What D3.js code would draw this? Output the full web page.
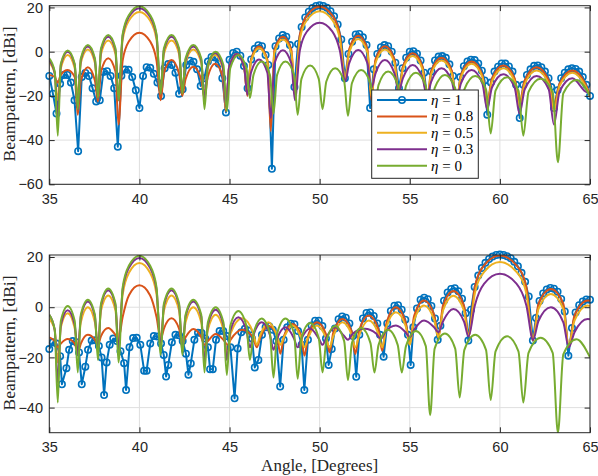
<!DOCTYPE html>
<html>
<head>
<meta charset="utf-8">
<script src="https://cdn.jsdelivr.net/npm/d3@7"></script>
<style>
  body { margin: 0; background: #fff; }
</style>
</head>
<body>
<div id="chart"></div>
<script>
// ---- data ----
const angleTicks = [35, 40, 45, 50, 55, 60, 65];
const topDbTicks = [-60, -40, -20, 0, 20];
const bottomDbTicks = [-40, -20, 0, 20];
const etaLabels = ["1", "0.8", "0.5", "0.3", "0"];

// eta = 0 (same beam at 40 deg in both panels)
const greenAngles = [35.0, 35.30, 35.47, 35.64, 36.02, 36.41, 36.58, 36.75, 37.14, 37.53, 37.70, 37.87, 38.27, 38.67,
  38.84, 39.07, 39.42, 40.0, 40.59, 40.95, 41.18, 41.36, 41.78, 42.20, 42.38, 42.56, 42.99, 43.43, 43.61, 43.80, 44.23, 44.66,
  44.85, 45.04, 45.49, 45.94, 46.13, 46.33, 46.78, 47.24, 47.44, 47.64, 48.10, 48.58, 48.78, 48.99, 49.47, 49.95,
  50.16, 50.37, 50.86, 51.36, 51.57, 51.79, 52.30, 52.82, 53.04, 53.27, 53.80, 54.33, 54.56, 54.79, 55.34, 55.89,
  56.13, 56.38, 56.95, 57.52, 57.77, 58.03, 58.63, 59.23, 59.49, 59.76, 60.40, 61.03, 61.30, 61.59, 62.26, 62.93,
  63.22, 63.52, 64.25, 65.0];
const greenDb = [-3, -9, -38, -5.5, 0.5, -5.5,
  -26, -3, 3, -3,
  -21, 1.5, 7.5, 1.5,
  -22, 7.9, 16.6, 20.5, 16.6, 7.9,
  -19, 1.5, 7.5, 1.5,
  -19, -3, 3, -3,
  -26, -6, 0, -6,
  -27, -7.5, -1.5, -7.5,
  -21, -10.5, -4.5, -10.5,
  -28, -10.5, -4.5, -10.5,
  -28.5, -12.3, -6.3, -12.3,
  -26, -13.5, -7.5, -13.5,
  -29, -14.3, -8.3, -14.3,
  -26, -15, -9, -15,
  -26, -15.5, -9.5, -15.5,
  -43, -16.5, -10.5, -16.5,
  -36, -17, -11, -17,
  -37, -17.6, -11.6, -17.6,
  -38, -18.2, -12.2, -18.2,
  -50, -18.8, -12.8,
  -20];

// top panel, beams at 40 and 50 deg
const topMixAngles = [35.0, 35.30, 35.47, 35.64, 36.02, 36.41, 36.58, 36.75, 37.14, 37.53, 37.70, 37.87, 38.27, 38.67,
  38.84, 39.07, 39.42, 40.0, 40.59, 40.95, 41.18, 41.36, 41.78, 42.20, 42.38, 42.56, 42.99, 43.43, 43.61, 43.79, 44.2, 44.62,
  44.8, 44.98, 45.4, 45.81, 45.99, 46.19, 46.64, 47.10, 47.29, 47.49, 47.96, 48.43, 48.63, 48.9, 49.3, 50.0, 50.7, 51.12,
  51.42, 51.64, 52.14, 52.65, 52.87, 53.10, 53.62, 54.15, 54.38, 54.62, 55.16, 55.71, 55.95, 56.19, 56.76, 57.34,
  57.58, 57.84, 58.43, 59.03, 59.29, 59.56, 60.19, 60.82, 61.09, 61.38, 62.04, 62.71, 63.0, 63.31, 64.02, 64.74, 65.0];
const topOrangeDb = [-10.5, -11.5, -14, -10.5, -8.3, -11.5,
  -28.5, -13, -7, -13,
  -22.5, -9, -3, -9,
  -33, -4, 4.7, 8.6, 4.7, -4,
  -22, -9.8, -3.8, -9.8,
  -20, -12.5, -6.8, -12.5,
  -21, -11.5, -5.5, -11.5,
  -27, -7, -1, -7,
  -20, -3.7, 2.3, -3.7,
  -36, 0.8, 6.8, 0.8,
  -20, 7.7, 16.4, 20.3, 16.4, 7.7,
  -13, 1.2, 7.2, 1.2,
  -22, -3.5, 2.5, -3.5,
  -20, -6.7, -0.7, -6.7,
  -22, -8.8, -2.8, -8.8,
  -24, -10.5, -4.5, -10.5,
  -23, -12.2, -6.2, -12.2,
  -23, -13, -7, -13,
  -24, -14.5, -8.5, -14.5,
  -20];
const topYellowDb = [-5, -10, -22, -7.5, -1.5, -7.5,
  -20, -5, 1, -5,
  -18, -1, 5, -1,
  -20, 5.4, 14.1, 18, 14.1, 5.4,
  -19, -1, 5, -1,
  -17, -5, 1, -5,
  -20, -7.5, -1.5, -7.5,
  -26, -7, -1, -7,
  -19, -4.5, 1.5, -4.5,
  -28, -0.5, 5.5, -0.5,
  -18, 5.7, 14.4, 18.3, 14.4, 5.7,
  -12, -0.3, 5.7, -0.3,
  -20, -5, 1, -5,
  -19, -8, -2, -8,
  -21, -10, -4, -10,
  -22, -11.5, -5.5, -11.5,
  -24, -13.5, -7.5, -13.5,
  -25, -14.5, -8.5, -14.5,
  -27, -15.5, -9.5, -15.5,
  -20];
const topPurpleDb = [-4, -9.5, -30, -6, 0, -6,
  -26, -3.7, 2.3, -3.7,
  -21, 0.8, 6.8, 0.8,
  -22, 7.1, 15.8, 19.7, 15.8, 7.1,
  -19, 0.8, 6.8, 0.8,
  -18, -3.7, 2.3, -3.7,
  -22, -6.5, -0.5, -6.5,
  -25, -7, -1, -7,
  -19.5, -9.5, -3.5, -9.5,
  -30, -5.3, 0.7, -5.3,
  -22, 0.5, 9.2, 13.1, 9.2, 0.5,
  -13.5, -5.2, 0.8, -5.2,
  -16.5, -9.8, -3.8, -9.8,
  -18, -12, -6, -12,
  -20, -13.5, -7.5, -13.5,
  -22, -14.3, -8.3, -14.3,
  -26, -16.2, -10.2, -16.2,
  -28, -17, -11, -17,
  -33, -18, -12, -18,
  -19];
const topBlue = [[35.0,-11],[35.2,-19],[35.4,-28],[35.6,-14.5],[35.8,-10.5],[36.0,-10.5],[36.2,-14],[36.4,-22],
  [36.6,-45],[36.8,-11.5],[37.0,-9.6],[37.2,-11],[37.4,-16.5],[37.6,-22.5],[37.8,-22],[38.0,-9.2],[38.2,-8.8],
  [38.4,-11],[38.6,-16.5],[38.8,-43],[39.0,-10.9],[39.2,-8.1],[39.4,-8.2],[39.6,-11.5],[39.8,-17.5],[40.0,-25.5],
  [40.2,-11],[40.4,-7],[40.6,-7.3],[40.8,-10],[41.0,-14],[41.2,-20],[41.4,-7.5],[41.6,-5.6],[41.8,-6],[42.0,-9.5],
  [42.2,-19],[42.4,-17],[42.6,-6],[42.8,-4.1],[43.0,-4.6],[43.2,-8],[43.4,-15.5],[43.6,-12],[43.8,-4.5],[44.0,-2.4],
  [44.2,-2.6],[44.4,-5.5],[44.6,-12],[44.8,-27.5],[45.0,-3.6],[45.2,-0.6],[45.4,0],[45.6,-1.8],[45.8,-6.5],
  [46.0,-16.5],[46.2,-3.5],[46.4,1.3],[46.6,2.9],[46.8,2.5],[47.0,-1.5],[47.15,-6],[47.35,-53],[47.55,2.5],
  [47.75,6],[47.95,7.5],[48.15,6.8],[48.35,3],[48.6,-16],[48.8,3.5],[49.0,11.2],[49.2,15.5],[49.4,18.1],
  [49.6,19.8],[49.8,20.7],[50.0,21],[50.2,20.7],[50.4,19.9],[50.6,18.3],[50.8,16],[51.0,12.3],[51.2,5.5],
  [51.4,-12],[51.6,-1],[51.8,4.5],[52.0,7.8],[52.2,8],[52.4,6.5],[52.6,3],[52.8,-25.5],[53.0,-8],[53.2,-1],
  [53.4,2],[53.6,3],[53.8,2.5],[54.0,0],[54.2,-5],[54.4,-16.5],[54.6,-7.5],[54.8,-2.7],[55.0,0],[55.2,0.2],
  [55.4,-0.9],[55.6,-4],[55.8,-9.5],[56.0,-24],[56.2,-9],[56.4,-4],[56.6,-2.2],[56.8,-2],[57.0,-2.8],[57.2,-5.7],
  [57.4,-11],[57.6,-28],[57.8,-11.5],[58.0,-6.6],[58.2,-4.4],[58.4,-3.6],[58.6,-3.8],[58.8,-5.3],[59.0,-8.6],
  [59.15,-13],[59.3,-28.5],[59.5,-14],[59.7,-9],[59.9,-6.8],[60.1,-5.3],[60.3,-5.4],[60.5,-6.7],[60.7,-9],
  [60.9,-15],[61.1,-30],[61.3,-15],[61.5,-10.5],[61.7,-8],[61.9,-6.4],[62.1,-6.2],[62.3,-7],[62.5,-9],[62.7,-12],
  [62.85,-16],[63.0,-25.5],[63.2,-17.5],[63.4,-12],[63.6,-9.5],[63.8,-8],[64.0,-7.5],[64.2,-7.8],[64.4,-9],
  [64.6,-11.5],[64.8,-15],[65.0,-20]];

// bottom panel, beams at 40 and 60 deg
const bottomMixAngles = [35.0, 35.30, 35.47, 35.64, 36.02, 36.41, 36.58, 36.75, 37.14, 37.53, 37.70, 37.87, 38.27, 38.67,
  38.84, 39.07, 39.42, 40.0, 40.59, 40.95, 41.18, 41.36, 41.78, 42.20, 42.38, 42.56, 42.99, 43.43, 43.61, 43.80, 44.23, 44.66,
  44.9, 45.06, 45.7, 46.3, 46.51, 46.71, 47.16, 47.62, 47.82, 48.02, 48.49, 48.96, 49.16, 49.37, 49.85, 50.34,
  50.55, 50.76, 51.26, 51.77, 51.98, 52.2, 52.72, 53.25, 53.47, 53.7, 54.23, 54.77, 55.0, 55.24, 55.79, 56.35,
  56.59, 56.84, 57.42, 58.01, 58.26, 58.61, 59.13, 60.0, 60.92, 61.47, 61.84, 62.14, 62.83, 63.52, 63.82, 64.14, 64.87, 65.0];
const bottomOrangeDb = [-12, -13.5, -16, -14.5, -12.7, -14.5,
  -18, -14.5, -11, -13,
  -15, -11.5, -8.3, -11,
  -12.5, -3.9, 4.8, 8.7, 4.8, -3.9,
  -12.7, -8.5, -4.4, -8.5,
  -14.5, -12, -8.7, -12,
  -15, -13.5, -10.7, -13,
  -15, -13, -9, -12,
  -16, -12, -7.5, -11,
  -18.5, -11.5, -6.7, -11,
  -19.3, -11, -6, -10.5,
  -18, -10, -4.7, -9.5,
  -18.7, -9, -3.3, -8.5,
  -17.3, -6.5, 0, -6,
  -14.7, -3.5, 2.7, -3,
  -12, 0.5, 6.5, 0.5,
  -11.3, 8, 16.7, 20.6, 16.7, 8,
  -13.3, 1.3, 7.3, 1.3,
  -16, -3.3, 2.7,
  2.6];
const bottomYellowDb = [-4.7, -9, -22, -8, -2.4, -8.4,
  -16, -6, 0, -6,
  -15, -1.3, 4.7, -1.3,
  -13, 5, 13.7, 17.6, 13.7, 5,
  -13, -1.3, 4.7, -1.3,
  -16, -6, 0, -6,
  -20, -9, -3, -9,
  -20, -10.4, -4.4, -10,
  -15, -11, -6, -11,
  -15, -12, -7.3, -12,
  -16, -12, -7.3, -12,
  -16, -11.5, -6, -11,
  -16, -11, -5.3, -10.5,
  -16, -8, -2, -7.5,
  -15, -5.3, 0.7, -5,
  -12, -1.4, 4.6, -1.4,
  -11.5, 5.4, 14.1, 18, 14.1, 5.4,
  -12.5, -0.7, 5.3, -0.7,
  -15, -5.3, 0.7,
  0.5];
const bottomPurpleAngles = [35.0, 35.30, 35.47, 35.64, 36.02, 36.41, 36.58, 36.75, 37.14, 37.53, 37.70, 37.87, 38.27, 38.67,
  38.84, 39.07, 39.42, 40.0, 40.59, 40.95, 41.18, 41.36, 41.78, 42.20, 42.38, 42.56, 42.99, 43.43, 43.61, 43.80, 44.23, 44.66,
  44.85, 45.04, 45.49, 45.94, 46.13, 46.33, 46.78, 47.24, 47.44, 47.64, 48.10, 48.58, 48.78, 48.99, 49.47, 49.95,
  50.16, 50.37, 50.86, 51.36, 51.57, 51.84, 52.5, 53.13, 53.4, 53.63, 54.23, 54.77, 55.0, 55.24, 55.79, 56.35,
  56.59, 56.84, 57.42, 58.01, 58.26, 58.61, 59.13, 60.0, 60.92, 61.47, 61.84, 62.14, 62.83, 63.52, 63.82, 64.14, 64.87, 65.0];
const bottomPurpleDb = [-3, -9, -30, -7, -1.2, -7,
  -19, -3.7, 2.3, -3.7,
  -18, 0.8, 6.8, 0.8,
  -17, 7, 15.7, 19.6, 15.7, 7,
  -16, 0.8, 6.8, 0.8,
  -18, -3.7, 2.3, -3.7,
  -22, -7, -1, -7,
  -21, -9.5, -4, -9.5,
  -16, -11, -6, -11,
  -17, -12.5, -8, -12.5,
  -16, -12.5, -8.5, -12.5,
  -15, -12, -8, -11.5,
  -13, -10.5, -8.6, -10.5,
  -12.6, -10, -7.3, -10,
  -12, -9, -5.3, -8,
  -10, -5.7, -0.7, -5.7,
  -11.7, 0.7, 9.4, 13.3, 9.4, 0.7,
  -13, -5.5, 0, -6,
  -16, -10, -4.7,
  -4.8];
const bottomBlue = [[35.0,-16.7],[35.2,-14],[35.4,-14.5],[35.6,-19.5],[35.7,-30.7],[35.95,-24.3],[36.1,-17],
  [36.3,-13.5],[36.5,-14],[36.65,-18],[36.8,-30.7],[37.0,-23.7],[37.15,-17],[37.35,-13.3],[37.55,-13.2],
  [37.75,-15.5],[37.9,-20],[38.04,-35],[38.18,-22],[38.35,-15],[38.55,-12.5],[38.75,-13.5],[38.95,-17.5],
  [39.15,-22.3],[39.26,-33],[39.45,-16],[39.65,-12.3],[39.85,-12.2],[40.05,-15],[40.26,-25.3],[40.4,-25.3],
  [40.6,-14.5],[40.8,-11.5],[41.0,-11.7],[41.2,-14.5],[41.35,-19],[41.48,-27.6],[41.6,-23],[41.8,-14],[42.0,-11],
  [42.2,-11.2],[42.4,-13.5],[42.58,-18.5],[42.72,-26.9],[42.85,-22.4],[43.05,-13],[43.25,-10.2],[43.45,-10.3],
  [43.65,-12.5],[43.8,-16],[43.92,-24.7],[44.07,-24.7],[44.25,-13],[44.45,-9.5],[44.65,-9.5],[44.85,-11.5],
  [45.05,-16],[45.28,-36.3],[45.45,-16.5],[45.65,-10],[45.85,-8.6],[46.05,-9.3],[46.25,-12.5],[46.4,-24],
  [46.6,-21],[46.8,-11],[47.0,-8],[47.2,-7.6],[47.4,-9],[47.6,-13.5],[47.81,-31.6],[48.0,-13],[48.2,-8],
  [48.4,-6.6],[48.6,-6.8],[48.8,-9.5],[49.0,-15],[49.15,-33],[49.35,-13],[49.55,-7.3],[49.75,-5.4],[49.95,-5.4],
  [50.15,-7.5],[50.35,-12.5],[50.5,-23],[50.67,-16.7],[50.85,-8.5],[51.05,-4.8],[51.25,-3.7],[51.45,-4.2],
  [51.65,-6.5],[51.85,-11.5],[52.03,-27.7],[52.2,-11],[52.4,-4.5],[52.6,-2.3],[52.8,-2.1],[53.0,-3.5],
  [53.2,-6.5],[53.35,-11],[53.55,-19.7],[53.75,-6.5],[53.95,-1.5],[54.15,0.6],[54.35,0.8],[54.55,-1],[54.75,-5],
  [54.9,-11],[55.05,-23],[55.2,-8],[55.4,-0.5],[55.6,3],[55.8,3.8],[56.0,3.2],[56.2,0.5],[56.4,-4.5],[56.55,-13],
  [56.7,-7.4],[56.9,2.6],[57.1,5.9],[57.3,7.3],[57.5,7.6],[57.7,6.4],[57.9,3.4],[58.1,-2.4],[58.25,-13.3],
  [58.4,-1],[58.6,8.1],[58.8,12.6],[59.0,15.6],[59.2,17.7],[59.4,19.2],[59.6,20.2],[59.8,20.8],[60.0,21],
  [60.2,20.8],[60.4,20.3],[60.6,19.5],[60.8,18.1],[61.0,16.3],[61.2,13.7],[61.4,10.1],[61.6,4.3],[61.83,-13.3],
  [62.0,-4.3],[62.2,2.5],[62.4,5.5],[62.6,7.1],[62.8,7.7],[63.0,7.4],[63.2,6.2],[63.4,3.3],[63.6,-1.7],
  [63.8,-19.3],[64.0,-8.3],[64.2,-2.1],[64.4,0.8],[64.6,2.3],[64.8,3.1],[65.0,3]];

// ---- drawing ----
const colors = ["#0072BD", "#D95319", "#EDB120", "#7E2F8E", "#77AC30"];
const sansFont = "'Liberation Sans', Arial, Helvetica, sans-serif";
const serifFont = "'Liberation Serif', 'Times New Roman', serif";
const ink = "#262626";

const width = 598, height = 476;
const left = 49.3, right = 590;

const pairs = (a, v) => a.slice(0, Math.min(a.length, v.length)).map((t, i) => [t, v[i]]);

const svg = d3.select("#chart")
  .append("svg")
  .attr("width", width)
  .attr("height", height)
  .style("background", "#fff");

const x = d3.scaleLinear().domain([35, 65]).range([left, right]);

const panels = [
  { top: 5.7, bottom: 184.3, domain: [-60, 20.8], ticks: topDbTicks, labelY: 94,
    blue: topBlue,
    smooth: [pairs(topMixAngles, topOrangeDb), pairs(topMixAngles, topYellowDb),
             pairs(topMixAngles, topPurpleDb), pairs(greenAngles, greenDb)],
    legend: true },
  { top: 255, bottom: 432.7, domain: [-50, 20.8], ticks: bottomDbTicks, labelY: 343,
    blue: bottomBlue,
    smooth: [pairs(bottomMixAngles, bottomOrangeDb), pairs(bottomMixAngles, bottomYellowDb),
             pairs(bottomPurpleAngles, bottomPurpleDb), pairs(greenAngles, greenDb)],
    legend: false }
];

panels.forEach(function(p, k) {
  const y = d3.scaleLinear().domain(p.domain).range([p.bottom, p.top]);
  const g = svg.append("g");

  // grid
  g.append("g").selectAll("line")
    .data(angleTicks)
    .join("line")
      .attr("x1", d => x(d)).attr("x2", d => x(d))
      .attr("y1", p.top).attr("y2", p.bottom)
      .attr("stroke", "#dfdfdf").attr("stroke-width", 1);
  g.append("g").selectAll("line")
    .data(p.ticks)
    .join("line")
      .attr("x1", left).attr("x2", right)
      .attr("y1", d => y(d)).attr("y2", d => y(d))
      .attr("stroke", "#dfdfdf").attr("stroke-width", 1);

  // clip for the lines
  const clipId = "clip" + k;
  svg.append("clipPath").attr("id", clipId)
    .append("rect")
      .attr("x", left).attr("y", p.top)
      .attr("width", right - left).attr("height", p.bottom - p.top);

  const lineLinear = d3.line().x(d => x(d[0])).y(d => y(d[1]));
  const lineSmooth = d3.line().x(d => x(d[0])).y(d => y(d[1])).curve(d3.curveMonotoneX);

  // eta = 1 with circle markers
  g.append("path")
    .datum(p.blue)
    .attr("clip-path", `url(#${clipId})`)
    .attr("fill", "none")
    .attr("stroke", colors[0])
    .attr("stroke-width", 2)
    .attr("stroke-linejoin", "round")
    .attr("d", lineLinear);
  g.append("g").selectAll("circle")
    .data(p.blue)
    .join("circle")
      .attr("cx", d => x(d[0]))
      .attr("cy", d => y(d[1]))
      .attr("r", 3.2)
      .attr("fill", "none")
      .attr("stroke", colors[0])
      .attr("stroke-width", 1.6);

  // remaining eta values
  p.smooth.forEach(function(s, i) {
    g.append("path")
      .datum(s)
      .attr("clip-path", `url(#${clipId})`)
      .attr("fill", "none")
      .attr("stroke", colors[i + 1])
      .attr("stroke-width", 2)
      .attr("stroke-linejoin", "round")
      .attr("d", lineSmooth);
  });

  // box
  g.append("rect")
    .attr("x", left).attr("y", p.top)
    .attr("width", right - left).attr("height", p.bottom - p.top)
    .attr("fill", "none").attr("stroke", ink).attr("stroke-width", 1);

  // axes, ticks pointing inward
  const tk = 5.4;
  const xAxis = g.append("g")
    .attr("transform", `translate(0,${p.bottom})`)
    .call(d3.axisBottom(x).tickValues(angleTicks).tickSizeInner(-tk).tickSizeOuter(0).tickPadding(9.5));
  g.append("g")
    .attr("transform", `translate(0,${p.top})`)
    .call(d3.axisTop(x).tickValues(angleTicks).tickSizeInner(-tk).tickSizeOuter(0).tickFormat(""));
  const yAxis = g.append("g")
    .attr("transform", `translate(${left},0)`)
    .call(d3.axisLeft(y).tickValues(p.ticks).tickSizeInner(-tk).tickSizeOuter(0).tickPadding(6.3));
  g.append("g")
    .attr("transform", `translate(${right},0)`)
    .call(d3.axisRight(y).tickValues(p.ticks).tickSizeInner(-tk).tickSizeOuter(0).tickFormat(""));

  g.selectAll(".domain").remove();
  g.selectAll(".tick line").attr("stroke", ink);
  [xAxis, yAxis].forEach(a => a.selectAll("text")
    .attr("fill", ink)
    .style("font-family", sansFont)
    .style("font-size", "14.5px"));

  // y label
  g.append("text")
    .attr("transform", `translate(14.7,${p.labelY}) rotate(-90)`)
    .attr("text-anchor", "middle")
    .attr("fill", ink)
    .style("font-family", serifFont)
    .style("font-size", "17.5px")
    .text("Beampattern, [dBi]");

  if (p.legend) {
    const lg = g.append("g");
    lg.append("rect")
      .attr("x", 371.7).attr("y", 90).attr("width", 106.6).attr("height", 88.3)
      .attr("fill", "#fff").attr("stroke", ink).attr("stroke-width", 1);
    const rowY = d3.scaleLinear().domain([0, 4]).range([100, 165.7]);
    etaLabels.forEach(function(lab, i) {
      lg.append("line")
        .attr("x1", 377).attr("x2", 427)
        .attr("y1", rowY(i)).attr("y2", rowY(i))
        .attr("stroke", colors[i]).attr("stroke-width", 2);
      if (i === 0) {
        lg.append("circle")
          .attr("cx", 402).attr("cy", rowY(i)).attr("r", 3.2)
          .attr("fill", "none").attr("stroke", colors[0]).attr("stroke-width", 1.6);
      }
      const t = lg.append("text")
        .attr("x", 431).attr("y", rowY(i))
        .attr("dy", "0.33em")
        .attr("fill", "#000")
        .style("font-family", serifFont)
        .style("font-size", "15px");
      t.append("tspan").style("font-style", "italic").text("\u03b7");
      t.append("tspan").text(" = " + lab);
    });
  }
});

// x label
svg.append("text")
  .attr("x", (left + right) / 2)
  .attr("y", 471)
  .attr("text-anchor", "middle")
  .attr("fill", ink)
  .style("font-family", serifFont)
  .style("font-size", "17px")
  .text("Angle, [Degrees]");
</script>
</body>
</html>
